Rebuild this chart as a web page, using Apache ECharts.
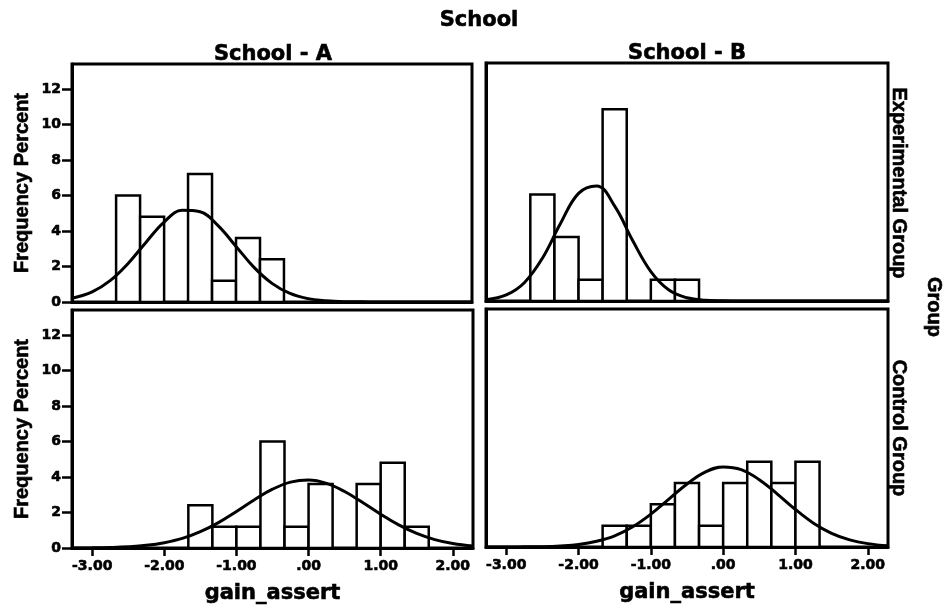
<!DOCTYPE html>
<html>
<head>
<meta charset="utf-8">
<script src="https://cdn.jsdelivr.net/npm/echarts@6/dist/echarts.min.js"></script>
<style>
  html, body { margin: 0; padding: 0; background: #fff; }
  #chart { width: 947px; height: 609px; }
</style>
</head>
<body>
<div id="chart"></div>
<script>
// axis ticks
const xTicks = [-3, -2, -1, 0, 1, 2];
const yTicks = [0, 2, 4, 6, 8, 10, 12];

// histogram bins (lower edge, width 1/3), frequency percent
const binWidth = 1 / 3;
const expA_low = [-2.667, -2.333, -2.0, -1.667, -1.333, -1.0, -0.667];
const expA_pct = [6.0, 4.8, 0, 7.2, 1.2, 3.6, 2.4];
const expB_low = [-2.667, -2.333, -2.0, -1.667, -1.333, -1.0, -0.667];
const expB_pct = [6.0, 3.6, 1.2, 10.8, 0, 1.2, 1.2];
const ctlA_low = [-1.667, -1.333, -1.0, -0.667, -0.333, 0, 0.333, 0.667, 1.0, 1.333];
const ctlA_pct = [2.4, 1.2, 1.2, 6.0, 1.2, 3.6, 0, 3.6, 4.8, 1.2];
const ctlB_low = [-1.667, -1.333, -1.0, -0.667, -0.333, 0, 0.333, 0.667, 1.0];
const ctlB_pct = [1.2, 1.2, 2.4, 3.6, 1.2, 3.6, 4.8, 3.6, 4.8];

// normal curves
const curveX = [-3.28, -3.0, -2.75, -2.5, -2.25, -2.0, -1.75, -1.5, -1.25, -1.0, -0.75, -0.5,
                -0.25, 0, 0.25, 0.5, 0.75, 1.0, 1.25, 1.5, 1.75, 2.0, 2.28];
const expA_curve = [0.21, 0.57, 1.20, 2.17, 3.37, 4.50, 5.16, 5.08, 4.30, 3.13, 1.95, 1.05,
                    0.48, 0.19, 0.07, 0.02, 0.01, 0, 0, 0, 0, 0, 0];
const expB_curve = [0.07, 0.34, 1.03, 2.41, 4.36, 6.06, 6.48, 5.34, 3.39, 1.66, 0.62, 0.18,
                    0.04, 0.01, 0, 0, 0, 0, 0, 0, 0, 0, 0];
const ctlA_curve = [0.00, 0.01, 0.03, 0.07, 0.15, 0.30, 0.54, 0.92, 1.43, 2.06, 2.72, 3.31,
                    3.71, 3.83, 3.64, 3.18, 2.56, 1.90, 1.30, 0.82, 0.47, 0.25, 0.11];
const ctlB_curve = [0, 0, 0.01, 0.02, 0.06, 0.14, 0.32, 0.63, 1.14, 1.85, 2.70, 3.55,
                    4.22, 4.51, 4.36, 3.79, 2.98, 2.11, 1.34, 0.77, 0.40, 0.19, 0.07];

const tickFont = 'DejaVu Sans';
const nameFont = 'Liberation Sans';
// thicken the text a little, the scan is very heavy
const heavy = {textBorderColor: '#000', textBorderWidth: 0.6};

let chart = echarts.init(document.getElementById('chart'));

function histData(low, pct) {
    return low.map((lo, i) => [lo, lo + binWidth, pct[i]]);
}
function curveData(ys) {
    return curveX.map((x, i) => [x, ys[i]]);
}
function renderBin(params, api) {
    let h = api.value(2);
    if (!h) return;
    let p0 = api.coord([api.value(0), 0]);
    let p1 = api.coord([api.value(1), h]);
    return {
        type: 'rect',
        shape: {x: p0[0], y: p1[1], width: p1[0] - p0[0], height: p0[1] - p1[1]},
        style: {fill: '#fff', stroke: '#000', lineWidth: 2.5}
    };
}

function xAxisFor(idx, showLabels) {
    return {
        type: 'value', gridIndex: idx, min: -3.28, max: 2.28,
        name: showLabels ? 'gain_assert' : '',
        nameLocation: 'middle', nameGap: 35,
        nameTextStyle: Object.assign({fontFamily: tickFont, fontWeight: 'bold', fontSize: 21, color: '#000'}, heavy),
        axisLine: {show: true, onZero: false, lineStyle: {color: '#000', width: 3}},
        axisTick: {show: showLabels, length: 8, customValues: xTicks, lineStyle: {color: '#000', width: 2.5}},
        axisLabel: Object.assign({
            show: showLabels, customValues: xTicks, margin: 11,
            fontFamily: tickFont, fontWeight: 'bold', fontSize: 14, color: '#000',
            formatter: (v) => v === 0 ? '.00' : v.toFixed(2)
        }, heavy),
        splitLine: {show: false}
    };
}
function yAxisFor(idx, showLabels) {
    return {
        type: 'value', gridIndex: idx, min: 0, max: 13.4,
        name: showLabels ? 'Frequency Percent' : '',
        nameLocation: 'middle', nameGap: 40,
        nameTextStyle: Object.assign({fontFamily: nameFont, fontWeight: 'bold', fontSize: 20, color: '#000'}, heavy),
        axisLine: {show: true, onZero: false, lineStyle: {color: '#000', width: 3}},
        axisTick: {show: showLabels, length: 10, customValues: yTicks, lineStyle: {color: '#000', width: 2.5}},
        axisLabel: Object.assign({
            show: showLabels, customValues: yTicks, margin: 11,
            fontFamily: tickFont, fontWeight: 'bold', fontSize: 14, color: '#000'
        }, heavy),
        splitLine: {show: false}
    };
}

const panels = [
    {low: expA_low, pct: expA_pct, curve: expA_curve},
    {low: expB_low, pct: expB_pct, curve: expB_curve},
    {low: ctlA_low, pct: ctlA_pct, curve: ctlA_curve},
    {low: ctlB_low, pct: ctlB_pct, curve: ctlB_curve},
];

let series = [];
panels.forEach((p, i) => {
    series.push({
        type: 'custom', xAxisIndex: i, yAxisIndex: i,
        renderItem: renderBin, data: histData(p.low, p.pct), silent: true
    });
    series.push({
        type: 'line', xAxisIndex: i, yAxisIndex: i, data: curveData(p.curve),
        smooth: 0.4, symbol: 'none', silent: true,
        lineStyle: {color: '#000', width: 3}
    });
});

const gridStyle = {show: true, borderColor: '#000', borderWidth: 3, backgroundColor: '#fff'};

function label(text, x, y, font, size, rot) {
    return {
        type: 'text', x: x, y: y, rotation: rot || 0,
        style: Object.assign({text: text, fontFamily: font, fontWeight: 'bold', fontSize: size,
            fill: '#000', align: 'center', verticalAlign: 'middle'}, {stroke: '#000', lineWidth: 0.6})
    };
}

let options = {
    backgroundColor: '#fff',
    animation: false,
    grid: [
        Object.assign({left: 72, top: 64, width: 400, height: 238}, gridStyle),
        Object.assign({left: 486, top: 63, width: 402, height: 238}, gridStyle),
        Object.assign({left: 72, top: 310, width: 401, height: 238}, gridStyle),
        Object.assign({left: 486, top: 309, width: 402, height: 238}, gridStyle),
    ],
    xAxis: [xAxisFor(0, false), xAxisFor(1, false), xAxisFor(2, true), xAxisFor(3, true)],
    yAxis: [yAxisFor(0, true), yAxisFor(1, false), yAxisFor(2, true), yAxisFor(3, false)],
    graphic: [
        label('School', 479, 21, tickFont, 21),
        label('School - A', 273, 55, tickFont, 21),
        label('School - B', 687, 54, tickFont, 21),
        label('Experimental Group', 899, 183, nameFont, 20, -Math.PI / 2),
        label('Control Group', 899, 428, nameFont, 20, -Math.PI / 2),
        label('Group', 934, 307, nameFont, 20, -Math.PI / 2),
    ],
    series: series
};
chart.setOption(options);
</script>
</body>
</html>
